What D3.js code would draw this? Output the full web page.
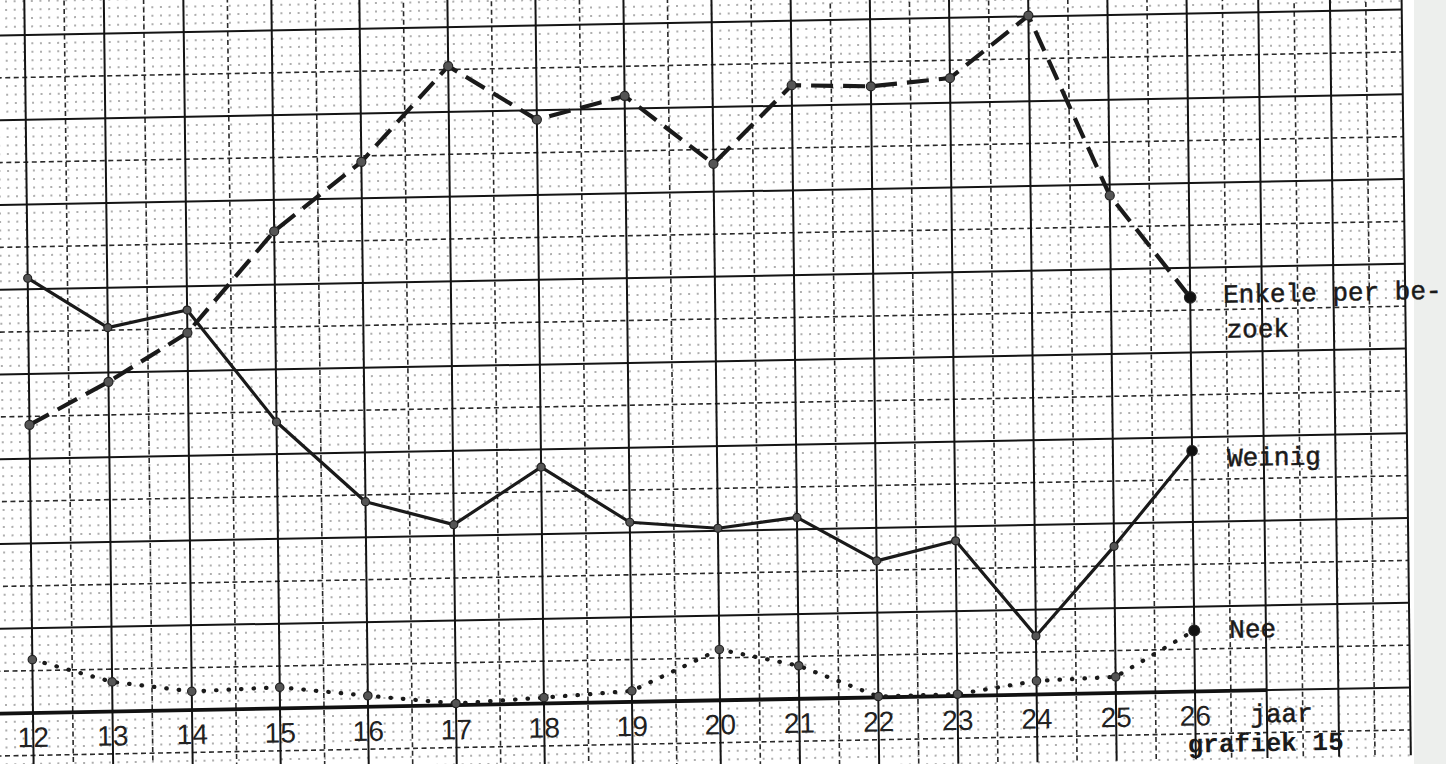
<!DOCTYPE html>
<html>
<head>
<meta charset="utf-8">
<script src="https://cdn.jsdelivr.net/npm/d3@7"></script>
<style>
  body { margin: 0; background: #fff; overflow: hidden; }
  svg { display: block; }
</style>
</head>
<body>
<div id="chart"></div>
<script>
const years = [12, 13, 14, 15, 16, 17, 18, 19, 20, 21, 22, 23, 24, 25, 26];
const yearLabels = ["12", "13", "14", "15", "16", "17", "18", "19", "20", "21", "22", "23", "24", "25", "26"];
const enkele = [34.0, 38.9, 44.5, 56.3, 64.3, 75.4, 68.9, 71.5, 63.3, 72.4, 72.1, 72.9, 80.1, 58.7, 46.5];
const weinig = [51.3, 45.3, 47.2, 33.8, 24.2, 21.3, 27.9, 21.2, 20.3, 21.4, 16.1, 18.3, 6.9, 17.3, 28.4];
const nee = [6.3, 3.5, 2.2, 2.5, 1.3, 0.2, 0.7, 1.3, 6.0, 3.9, 0.1, 0.2, 1.6, 1.9, 7.2];
const enkeleLabel = ["Enkele per be-", "zoek"];
const weinigLabel = "Weinig";
const neeLabel = "Nee";
const xTitle = "jaar";
const caption = "grafiek 15";

const width = 1446, height = 764;

const svg = d3.select("#chart")
    .append("svg")
    .attr("width", width)
    .attr("height", height);

svg.append("rect").attr("width", width).attr("height", height).attr("fill", "#fff");

// rand van het gescande papier
svg.append("rect")
    .attr("x", 1414).attr("y", 0)
    .attr("width", width - 1414).attr("height", height)
    .attr("fill", "#edefed");

// het papier is iets scheef gescand
const g = svg.append("g")
    .attr("transform", "matrix(1,-0.0185,0.0122,1,-8.7,0.61)");

// ruitjespapier is niet helemaal gelijkmatig -> stuksgewijs lineair
const x = d3.scaleLinear()
    .domain([12, 14, 20, 26, 29])
    .range([33, 192, 720, 1195, 1410]);

const y = d3.scaleLinear()
    .domain([0, 80])
    .range([713, 35]);

const xMin = 11, xMax = 29, yMin = -8, yMax = 92;

// stippenraster (1 eenheid)
const minorH = d3.range(yMin, yMax + 1).filter(d => d % 5 !== 0);

g.append("g").selectAll("line")
    .data(minorH)
    .enter().append("line")
    .attr("x1", x(xMin)).attr("x2", x(xMax))
    .attr("y1", d => y(d)).attr("y2", d => y(d))
    .attr("stroke", "#8c8c8c")
    .attr("stroke-width", 2)
    .attr("stroke-dasharray", "2 6.6")
    .attr("opacity", 0.7);

// halve lijnen (gestreept)
const halfV = d3.range(xMin, xMax).map(d => d + 0.5);
const halfH = d3.range(yMin, yMax + 1).filter(d => Math.abs(d % 10) === 5);

g.append("g").selectAll("line")
    .data(halfV)
    .enter().append("line")
    .attr("x1", d => x(d)).attr("x2", d => x(d))
    .attr("y1", y(yMax)).attr("y2", y(yMin))
    .attr("stroke", "#2a2a2a")
    .attr("stroke-width", 1.6)
    .attr("stroke-dasharray", "5 3.5");

g.append("g").selectAll("line")
    .data(halfH)
    .enter().append("line")
    .attr("x1", x(xMin)).attr("x2", x(xMax))
    .attr("y1", d => y(d)).attr("y2", d => y(d))
    .attr("stroke", "#2a2a2a")
    .attr("stroke-width", 1.6)
    .attr("stroke-dasharray", "5 3.5");

// hoofdlijnen
g.append("g").selectAll("line")
    .data(d3.range(xMin, xMax + 1))
    .enter().append("line")
    .attr("x1", d => x(d)).attr("x2", d => x(d))
    .attr("y1", y(yMax)).attr("y2", y(yMin))
    .attr("stroke", "#141414")
    .attr("stroke-width", 2);

g.append("g").selectAll("line")
    .data(d3.range(-10, 100, 10))
    .enter().append("line")
    .attr("x1", x(xMin)).attr("x2", x(xMax))
    .attr("y1", d => y(d)).attr("y2", d => y(d))
    .attr("stroke", "#141414")
    .attr("stroke-width", 2);

// x-as (dikke lijn)
g.append("line")
    .attr("x1", x(xMin)).attr("x2", x(27))
    .attr("y1", y(0)).attr("y2", y(0))
    .attr("stroke", "#111")
    .attr("stroke-width", 3.8);

// as-labels
g.append("g").selectAll("text")
    .data(years)
    .enter().append("text")
    .attr("x", d => x(d))
    .attr("y", y(0) + 34)
    .attr("text-anchor", "middle")
    .style("font-family", "Liberation Sans, Arial, sans-serif")
    .style("font-size", "28px")
    .style("fill", "#222")
    .text((d, i) => yearLabels[i]);

const mono = "Liberation Mono, DejaVu Sans Mono, monospace";

g.append("text")
    .attr("x", x(26) + 55)
    .attr("y", y(0) + 32)
    .style("font-family", mono)
    .style("font-size", "26px")
    .style("fill", "#1a1a1a")
    .style("stroke", "#1a1a1a").style("stroke-width", 0.5)
    .text(xTitle);

g.append("text")
    .attr("x", x(26) - 8)
    .attr("y", y(0) + 61)
    .style("font-family", mono)
    .style("font-size", "26px")
    .style("font-weight", "bold")
    .style("fill", "#1a1a1a")
    .text(caption);

// lijnen
const line = data => d3.line()
    .x((d, i) => x(years[i]))
    .y(d => y(d))(data);

g.append("path")
    .attr("d", line(nee))
    .attr("fill", "none")
    .attr("stroke", "#1a1a1a")
    .attr("stroke-width", 4.2)
    .attr("stroke-linecap", "round")
    .attr("stroke-dasharray", "0.5 12");

g.append("path")
    .attr("d", line(weinig))
    .attr("fill", "none")
    .attr("stroke", "#1a1a1a")
    .attr("stroke-width", 3.2)
    .attr("stroke-linejoin", "round");

g.append("path")
    .attr("d", line(enkele))
    .attr("fill", "none")
    .attr("stroke", "#1a1a1a")
    .attr("stroke-width", 4.2)
    .attr("stroke-dasharray", "22 10");

// punten
[[enkele, 4.5], [weinig, 4], [nee, 4.2]].forEach(([data, r]) => {
    g.append("g").selectAll("circle")
        .data(data)
        .enter().append("circle")
        .attr("cx", (d, i) => x(years[i]))
        .attr("cy", d => y(d))
        .attr("r", (d, i) => i === data.length - 1 ? r + 1.2 : r)
        .attr("fill", (d, i) => i === data.length - 1 ? "#111" : "#555")
        .attr("stroke", "#222")
        .attr("stroke-width", 1.2);
});

// reeks-labels naast het laatste punt
const last = years.length - 1;
const labelStyle = sel => sel
    .style("font-family", mono)
    .style("font-size", "26px")
    .style("fill", "#1a1a1a")
    .style("stroke", "#1a1a1a")
    .style("stroke-width", 0.5);

g.append("text")
    .attr("x", x(26) + 33)
    .attr("y", y(enkele[last]) + 6)
    .call(labelStyle)
    .text(enkeleLabel[0]);

g.append("text")
    .attr("x", x(26) + 36)
    .attr("y", y(enkele[last]) + 41)
    .call(labelStyle)
    .text(enkeleLabel[1]);

g.append("text")
    .attr("x", x(26) + 35)
    .attr("y", y(weinig[last]) + 16)
    .call(labelStyle)
    .text(weinigLabel);

g.append("text")
    .attr("x", x(26) + 35)
    .attr("y", y(nee[last]) + 8)
    .call(labelStyle)
    .text(neeLabel);
</script>
</body>
</html>
